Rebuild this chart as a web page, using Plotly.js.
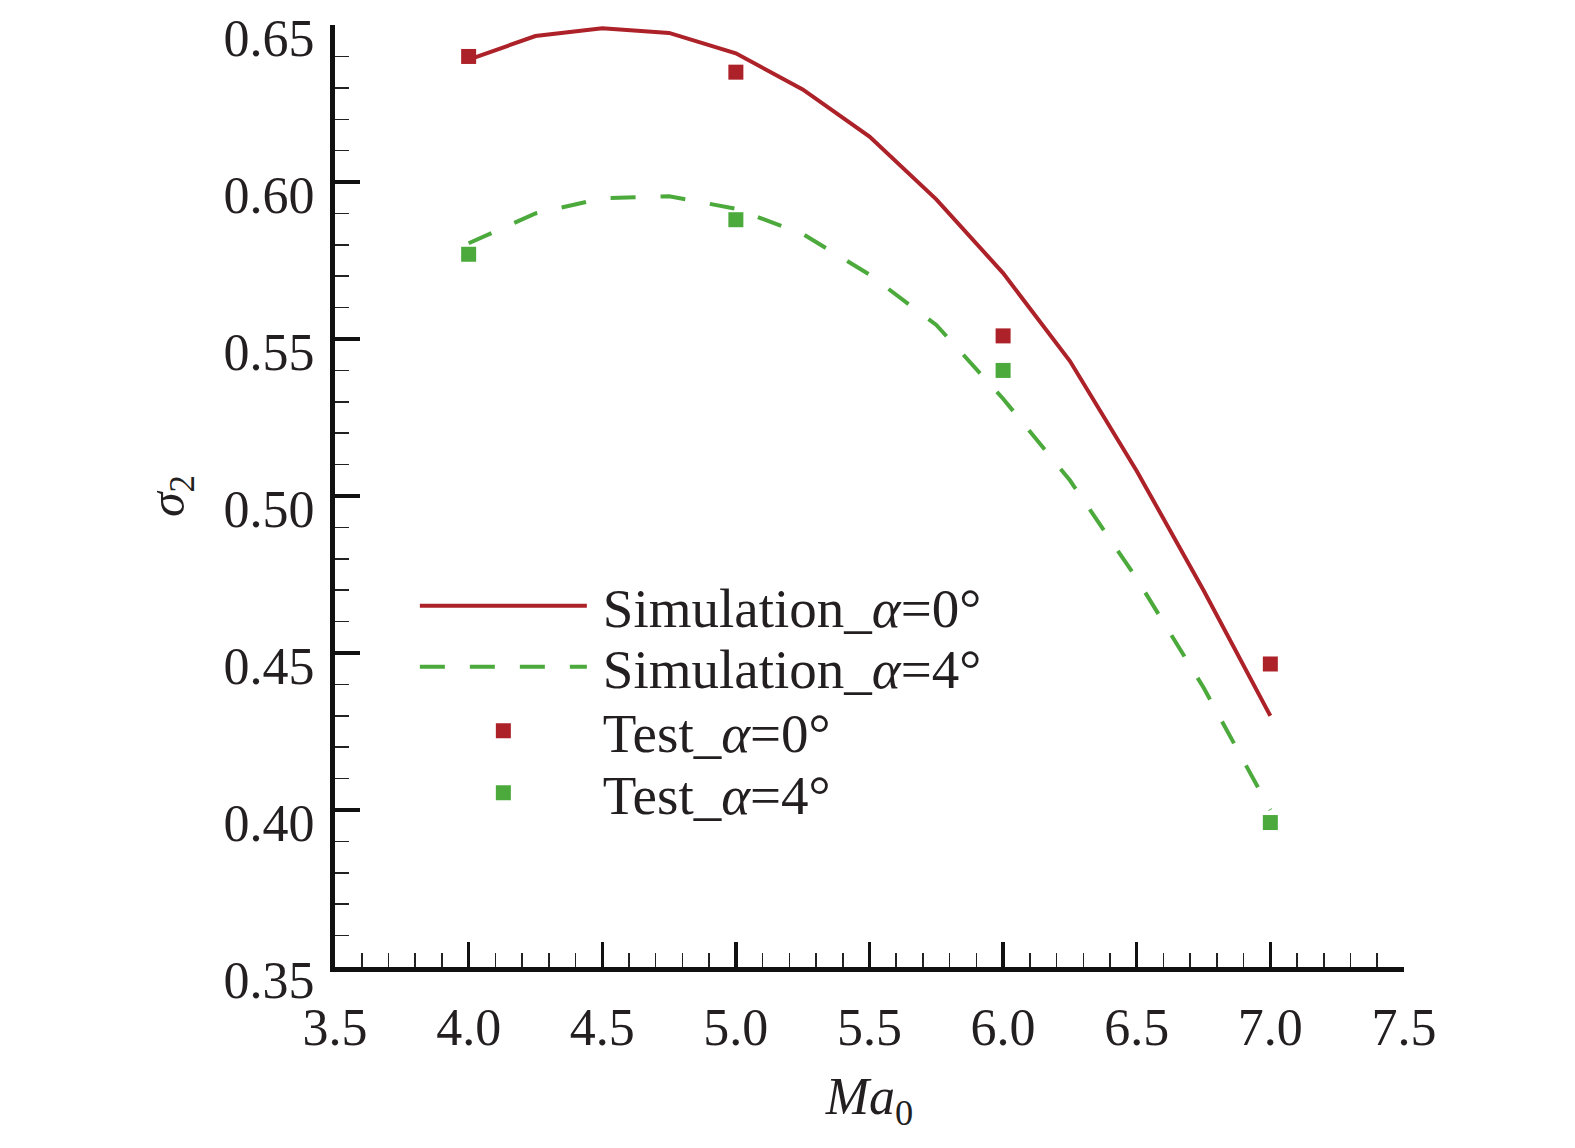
<!DOCTYPE html>
<html>
<head>
<meta charset="utf-8">
<script src="https://cdn.plot.ly/plotly-3.0.1.min.js"></script>
<style>html,body{margin:0;padding:0;background:#fff;}#chart{width:1575px;height:1148px;}</style>
</head>
<body>
<div id="chart"></div>
<script>
// Mach number grid for simulation curves
const simMach = [4.0, 4.25, 4.5, 4.75, 5.0, 5.25, 5.5, 5.75, 6.0, 6.25, 6.5, 6.75, 7.0];
const simAlpha0 = [0.639, 0.6465, 0.649, 0.6475, 0.641, 0.6295, 0.6145, 0.5945, 0.571, 0.543, 0.508, 0.470, 0.430];
const simAlpha4 = [0.5805, 0.590, 0.5948, 0.5955, 0.5915, 0.5835, 0.5705, 0.5545, 0.531, 0.505, 0.4737, 0.439, 0.400];
// Test data
const testMach = [4.0, 5.0, 6.0, 7.0];
const testAlpha0 = [0.640, 0.635, 0.551, 0.4465];
const testAlpha4 = [0.577, 0.588, 0.540, 0.396];
// Names
const seriesNames = ['\u2009Simulation_<i>α</i>=0°', '\u2009Simulation_<i>α</i>=4°', '\u2009Test_<i>α</i>=0°', '\u2009Test_<i>α</i>=4°'];

const RED = '#ad2129';
const GREEN = '#4caa3c';
const FONT = 'Liberation Serif, Times New Roman, serif';
const INK = '#231f20';

const traces = [
  {x: simMach, y: simAlpha0, mode: 'lines', name: seriesNames[0], line: {color: RED, width: 4}, legend: 'legend'},
  {x: simMach, y: simAlpha4, mode: 'lines', name: seriesNames[1], line: {color: GREEN, width: 4, dash: '25px,25px'}, legend: 'legend2'},
  {x: testMach, y: testAlpha0, mode: 'markers', name: seriesNames[2], marker: {color: RED, symbol: 'square', size: 15}, legend: 'legend3'},
  {x: testMach, y: testAlpha4, mode: 'markers', name: seriesNames[3], marker: {color: GREEN, symbol: 'square', size: 15}, legend: 'legend4'}
];

function leg(yPaper) {
  return {x: 0.0747, y: yPaper, xanchor: 'left', yanchor: 'middle', bgcolor: 'rgba(0,0,0,0)', borderwidth: 0,
          itemwidth: 167, font: {family: FONT, size: 55, color: INK}, itemclick: false, itemdoubleclick: false};
}
function py(p) { return (967 - p) / 942; }

const layout = {
  width: 1575, height: 1148,
  paper_bgcolor: '#ffffff', plot_bgcolor: '#ffffff',
  margin: {l: 335, r: 171, t: 25, b: 181},
  showlegend: true,
  legend: leg(py(606)),
  legend2: leg(py(667)),
  legend3: leg(py(731)),
  legend4: leg(py(793)),
  xaxis: {
    range: [3.4999, 7.5002], dtick: 0.5, tick0: 3.5, tickformat: '.1f',
    showgrid: false, zeroline: false,
    showline: true, linecolor: '#111', linewidth: 5,
    ticks: 'inside', ticklen: 25, tickwidth: 3.5, tickcolor: '#111',
    minor: {dtick: 0.1, ticks: 'inside', ticklen: 14, tickwidth: 1.5, tickcolor: '#222', showgrid: false},
    tickfont: {family: FONT, size: 52, color: INK},
    ticklabelstandoff: 11,
    title: {text: '<i>Ma</i><sub>0</sub>', font: {family: FONT, size: 52, color: INK}, standoff: 24}
  },
  yaxis: {
    range: [0.34999, 0.65002], dtick: 0.05, tick0: 0.35, tickformat: '.2f',
    showgrid: false, zeroline: false,
    showline: true, linecolor: '#111', linewidth: 5,
    ticks: 'inside', ticklen: 25, tickwidth: 3.5, tickcolor: '#111',
    minor: {dtick: 0.01, ticks: 'inside', ticklen: 14, tickwidth: 1.5, tickcolor: '#222', showgrid: false},
    tickfont: {family: FONT, size: 52, color: INK},
    ticklabelstandoff: 5,
    ticklabelshift: 13,
    title: {text: '<i>σ</i><sub>2</sub>', font: {family: FONT, size: 50, color: INK}, standoff: 25}
  },
  hovermode: false
};

Plotly.newPlot('chart', traces, layout, {displayModeBar: false, staticPlot: true});
</script>
</body>
</html>
